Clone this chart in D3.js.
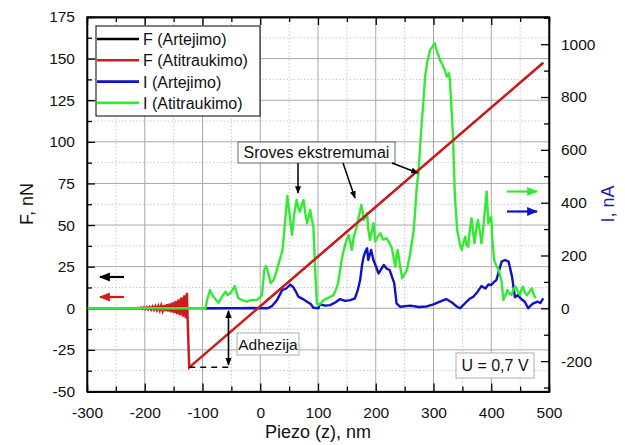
<!DOCTYPE html>
<html><head><meta charset="utf-8">
<script src="https://cdn.jsdelivr.net/npm/d3@7"></script>
<style>body{margin:0;background:#fff}svg{display:block}text{font-family:Arial,"Liberation Sans",sans-serif}</style>
</head><body><svg id="c" width="625" height="445"></svg>
<script>
// ---- data ----
const xTicks = [-300,-200,-100,0,100,200,300,400,500];
const fTicks = [-50,-25,0,25,50,75,100,125,150,175];
const iTicks = [-200,0,200,400,600,800,1000];
const seriesNames = ["F (Artejimo)","F (Atitraukimo)","I (Artejimo)","I (Atitraukimo)"];
const seriesColors = ["#000000","#cc1c1c","#1212c4","#33ea33"];

// F retract (nN) vs piezo (nm)
const fRetX = [-300,-214,-211.5,-209,-206.5,-204,-201.5,-199,-196.5,-194,-191.5,-189,-186.5,-184,-181.5,-179,-176.5,-174,-171.5,-169,-166.5,-164,-161.5,-159,-156.5,-154,-151.5,-149,-146.5,-144,-141.5,-139,-136.5,-134,-131.5,-129,-127,-126,-123,490];
const fRetY = [0,0,0.3,-0.3,0.4,-0.4,0.5,-0.5,0.6,-0.6,0.7,-0.7,0.9,-0.8,1.1,-1.0,1.3,-1.2,1.6,-1.4,2.0,-1.7,2.4,-2.0,2.9,-2.4,3.5,-2.9,4.3,-3.5,5.3,-4.2,6.5,-5.0,7.8,-6.0,9.3,-4,-35.5,147.5];
// F approach (mostly hidden under other curves)
const fAppX = [-300,-95,-3,490];
const fAppY = [0,0,0.32,147.5];
// I approach (nA)
const iAppX = [-95,12,20,29,38,45,52,57,62,66,74,81,88,92,101,103,112,121,130,138,147,156,164,169,173,176,179,182,185,187,190,192,196,200,205,210,214,219,224,228,232,236,242,260,275,288,300,311,322,332,340,346,355,362,369,376,383,390,395,400,405,409,413,418,424,430,436,441,446,452,458,464,468,473,480,485,490];
const iAppY = [0,0,8,31,69,75,90,80,62,44,35,25,15,2,0,16,10,12,22,35,28,31,38,70,107,160,195,215,227,183,205,221,183,160,132,150,164,150,145,120,95,19,6,10,5,7,15,25,35,22,7,0,20,35,44,62,84,75,90,88,100,107,140,177,183,177,120,42,50,35,25,0,10,19,25,20,38];
// I retract (nA)
const iRetX = [-300,-95,-91,-87,-84,-81,-76,-72,-66,-60,-56,-52,-48,-44,-41,-38,-30,-23,-15,-6,-1,3,7,10,14,18,23,28,32,36,39,43,47,51,55,59,63,66,69,72,75,78,81,84,86.5,89,92,95,98,101,105,110,118,127,131,135,138,141,144,147,150,153,156,158.5,162,167,171,175,177,179,182,185,187,190,193,196,199,203,208,213,219,223,228,231,234,236,238,242,246,250,254,259,265,268,271,274,277,280,283,285.5,289,294,298,302,305,307,309,311,314,317,320,323,325,327,328.5,330,332,334,337,341,346,349,352,355,357,360,363,366,369,371,374,377,381,383,386,389,392,395,398,400,402,405,409,413,418,421,425,428,432,435,438,442,447,450,452,455,458,462,467,470,473,477,482,486,489];
const iRetY = [0,0,40,69,55,44,30,21,45,63,50,57,70,84,60,38,30,25,32,31,40,50,145,160,133,95,107,140,170,200,227,330,425,350,278,360,410,380,366,395,410,360,322,345,372,340,309,150,19,12,20,31,40,50,70,95,140,183,215,240,260,278,250,221,270,309,350,391,370,334,345,360,300,259,290,322,252,270,284,260,265,250,227,190,158,200,221,160,114,130,145,200,284,360,461,511,620,713,800,877,930,978,990,1004,980,966,955,941,930,915,900,877,885,890,860,801,720,638,423,297,240,221,250,271,240,233,300,341,280,246,300,334,280,246,300,372,442,322,340,347,260,183,160,145,100,31,50,69,55,50,70,82,60,50,70,82,60,50,65,76,55,38];

// ---- layout ----
const svg = d3.select("#c");
const L=87, R=549, T=17, B=391.5;
const x = d3.scaleLinear().domain([-300,500]).range([L,R]);
const yF = d3.scaleLinear().domain([-50,175]).range([B,T]);
const yI = d3.scaleLinear().domain([-315,1103]).range([B,T]);
const fmt = d => String(d);

// grid
const g = svg.append("g");
d3.range(-250,500,100).forEach(v=>g.append("line").attr("x1",x(v)).attr("x2",x(v)).attr("y1",T).attr("y2",B).attr("stroke","#c8c8c8").attr("stroke-dasharray","1.5,2"));
d3.range(-37.5,175,25).forEach(v=>g.append("line").attr("x1",L).attr("x2",R).attr("y1",yF(v)).attr("y2",yF(v)).attr("stroke","#c8c8c8").attr("stroke-dasharray","1.5,2"));
xTicks.slice(1,-1).forEach(v=>g.append("line").attr("x1",x(v)).attr("x2",x(v)).attr("y1",T).attr("y2",B).attr("stroke","#a8a8a8").attr("stroke-width",1));
fTicks.slice(1,-1).forEach(v=>g.append("line").attr("x1",L).attr("x2",R).attr("y1",yF(v)).attr("y2",yF(v)).attr("stroke","#a8a8a8").attr("stroke-width",1));

// axes
function styleAxis(sel){sel.selectAll("path").attr("stroke","#000").attr("stroke-width",1.3);sel.selectAll("line").attr("stroke","#000").attr("stroke-width",1.3);sel.selectAll("text").attr("font-size","15.5px").attr("fill","#111");}
styleAxis(svg.append("g").attr("transform",`translate(0,${B})`).call(d3.axisBottom(x).tickValues(xTicks).tickSizeInner(-8).tickSizeOuter(0).tickPadding(15).tickFormat(fmt)));
styleAxis(svg.append("g").attr("transform",`translate(0,${B})`).call(d3.axisBottom(x).tickValues(d3.range(-250,500,100)).tickSize(-5).tickFormat("")));
styleAxis(svg.append("g").attr("transform",`translate(0,${T})`).call(d3.axisTop(x).tickValues(xTicks).tickSizeInner(-8).tickSizeOuter(0).tickFormat("")));
styleAxis(svg.append("g").attr("transform",`translate(0,${T})`).call(d3.axisTop(x).tickValues(d3.range(-250,500,100)).tickSize(-5).tickFormat("")));
styleAxis(svg.append("g").attr("transform",`translate(${L},0)`).call(d3.axisLeft(yF).tickValues(fTicks).tickSizeInner(-8).tickSizeOuter(0).tickPadding(12).tickFormat(fmt)));
styleAxis(svg.append("g").attr("transform",`translate(${L},0)`).call(d3.axisLeft(yF).tickValues(d3.range(-37.5,175,25)).tickSize(-5).tickFormat("")));
styleAxis(svg.append("g").attr("transform",`translate(${R},0)`).call(d3.axisRight(yI).tickValues(iTicks).tickSizeInner(-8).tickSizeOuter(0).tickPadding(12).tickFormat(fmt)));
styleAxis(svg.append("g").attr("transform",`translate(${R},0)`).call(d3.axisRight(yI).tickValues(d3.range(-300,1101,200)).tickSize(-5).tickFormat("")));

// series
const lineF = d3.line().x(d=>x(d[0])).y(d=>yF(d[1]));
const lineI = d3.line().x(d=>x(d[0])).y(d=>yI(d[1]));
svg.append("clipPath").attr("id","pc").append("rect").attr("x",L).attr("y",T).attr("width",R-L).attr("height",B-T);
const pg = svg.append("g").attr("clip-path","url(#pc)");
pg.append("path").datum(fAppX.map((v,i)=>[v,fAppY[i]])).attr("d",lineF).attr("fill","none").attr("stroke",seriesColors[0]).attr("stroke-width",1.8);
pg.append("path").datum(iAppX.map((v,i)=>[v,iAppY[i]])).attr("d",lineI).attr("fill","none").attr("stroke",seriesColors[2]).attr("stroke-width",2.4).attr("stroke-linejoin","round");
pg.append("path").datum(iRetX.map((v,i)=>[v,iRetY[i]])).attr("d",lineI).attr("fill","none").attr("stroke",seriesColors[3]).attr("stroke-width",2.4).attr("stroke-linejoin","round");
pg.append("path").datum(fRetX.map((v,i)=>[v,fRetY[i]])).attr("d",lineF).attr("fill","none").attr("stroke",seriesColors[1]).attr("stroke-width",2.5);
// green baseline on top of the red one at the left
pg.append("path").datum(iRetX.slice(0,2).map((v,i)=>[v,iRetY[i]])).attr("d",lineI).attr("fill","none").attr("stroke",seriesColors[3]).attr("stroke-width",2.4);

// frame
svg.append("rect").attr("x",L).attr("y",T).attr("width",R-L).attr("height",B-T).attr("fill","none").attr("stroke","#000").attr("stroke-width",1.3);

// axis titles
svg.append("text").attr("transform","translate(33,204) rotate(-90)").attr("text-anchor","middle").attr("font-size","18px").attr("fill","#111").text("F, nN");
svg.append("text").attr("transform","translate(614,204) rotate(-90)").attr("text-anchor","middle").attr("font-size","18px").attr("fill","#1a1aa8").text("I, nA");
svg.append("text").attr("x",318).attr("y",438).attr("text-anchor","middle").attr("font-size","18px").attr("fill","#111").text("Piezo (z), nm");

// legend
const lg = svg.append("g");
lg.append("rect").attr("x",96).attr("y",26).attr("width",164).attr("height",90).attr("fill","#fff").attr("stroke","#000").attr("stroke-width",1);
seriesNames.forEach((n,i)=>{
  const yy = 39 + i*21.3;
  lg.append("line").attr("x1",97).attr("x2",139).attr("y1",yy).attr("y2",yy).attr("stroke",seriesColors[i]).attr("stroke-width",2.6);
  lg.append("text").attr("x",143).attr("y",yy+6).attr("font-size","16px").attr("fill","#111").text(n);
});

// arrow markers
const defs = svg.append("defs");
function marker(id,color){defs.append("marker").attr("id",id).attr("viewBox","0 0 10 10").attr("refX",9).attr("refY",5).attr("markerWidth",5).attr("markerHeight",5).attr("orient","auto-start-reverse").append("path").attr("d","M0,1 L10,5 L0,9 Z").attr("fill",color);}
marker("mk","#000"); marker("mr",seriesColors[1]); marker("mg",seriesColors[3]); marker("mb",seriesColors[2]);
function arrow(x1,y1,x2,y2,m,col,w){svg.append("line").attr("x1",x1).attr("y1",y1).attr("x2",x2).attr("y2",y2).attr("stroke",col).attr("stroke-width",w||1.6).attr("marker-end",`url(#${m})`);}
arrow(124,277,100,277,"mk","#000",2.2);
arrow(124,297,100,297,"mr",seriesColors[1],2.2);
arrow(507,191.5,537,191.5,"mg",seriesColors[3],2.2);
arrow(507,211.5,537,211.5,"mb",seriesColors[2],2.2);

// annotation: Sroves ekstremumai
svg.append("rect").attr("x",238).attr("y",142).attr("width",157).attr("height",21).attr("fill","#fff").attr("stroke","#444").attr("stroke-width",0.8);
svg.append("text").attr("x",316.5).attr("y",158).attr("text-anchor","middle").attr("font-size","16px").attr("fill","#111").text("Sroves ekstremumai");
arrow(298,163,298,193,"mk","#000",1.5);
arrow(343,163,355,198,"mk","#000",1.5);
arrow(392,163,418,173,"mk","#000",1.5);

// adhesion
svg.append("line").attr("x1",x(-123)).attr("x2",x(-55)).attr("y1",yF(-35.5)).attr("y2",yF(-35.5)).attr("stroke","#000").attr("stroke-width",1.5).attr("stroke-dasharray","6,5");
svg.append("line").attr("x1",x(-55)).attr("x2",x(-55)).attr("y1",yF(-1.5)).attr("y2",yF(-34)).attr("stroke","#000").attr("stroke-width",1.6).attr("marker-start","url(#mk)").attr("marker-end","url(#mk)");
svg.append("rect").attr("x",237).attr("y",333).attr("width",62).attr("height",22).attr("fill","#fff").attr("stroke","#999").attr("stroke-width",0.8);
svg.append("text").attr("x",268).attr("y",349.5).attr("text-anchor","middle").attr("font-size","15.5px").attr("fill","#111").text("Adhezija");

// U box
svg.append("rect").attr("x",456).attr("y",353).attr("width",78).attr("height",25).attr("fill","#fff").attr("stroke","#999").attr("stroke-width",0.8);
svg.append("text").attr("x",495).attr("y",371).attr("text-anchor","middle").attr("font-size","16px").attr("fill","#111").text("U = 0,7 V");
</script></body></html>
